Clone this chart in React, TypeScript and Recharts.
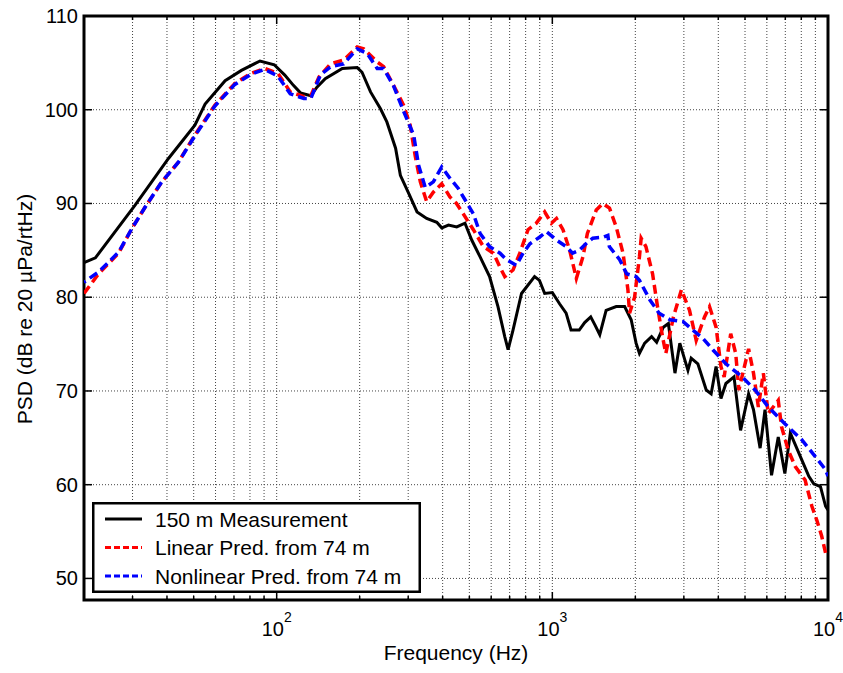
import { LineChart, Line, XAxis, YAxis, CartesianGrid, Legend, ReferenceArea } from 'recharts'

const CHART_W = 843
const CHART_H = 673
const PLOT_TOP = 16
const PLOT_RIGHT = 828
const FONT = '"Liberation Sans", Arial, Helvetica, sans-serif'

// frequency (Hz) ticks on the log axis
const xTicks = [
  20, 30, 40, 50, 60, 70, 80, 90, 100, 200, 300, 400, 500, 600, 700, 800, 900, 1000, 2000, 3000, 4000, 5000,
  6000, 7000, 8000, 9000, 10000,
]
const yTicks = [50, 60, 70, 80, 90, 100, 110]

// 150 m measurement
const measFreq = [
  20, 22, 30.6, 40.5, 50.5, 55, 65, 74.5, 87, 98, 107, 115, 122, 133, 140, 150, 173, 196, 204, 219, 238, 251,
  270, 281, 301, 323, 350, 381, 397, 420, 450, 482, 510, 547, 592, 635, 672, 691, 720, 773, 862, 898, 938, 1000,
  1062, 1122, 1169, 1252, 1310, 1378, 1430, 1486, 1567, 1705, 1829, 1932, 2013, 2070, 2163, 2291, 2390, 2527,
  2636, 2785, 2900, 3104, 3189, 3372, 3617, 3768, 3926, 4090, 4262, 4560, 4818, 5152, 5367, 5672, 5909, 6240,
  6600, 6974, 7300, 7940, 8520, 8878, 9390, 9800, 10000,
]
const measPsd = [
  83.7, 84.2, 89.8, 94.8, 98.35, 100.6, 103.1, 104.2, 105.2, 104.8, 103.7, 102.6, 101.8, 101.5, 102.4, 103.3,
  104.4, 104.5, 104.0, 101.9, 100.1, 98.7, 95.9, 93.0, 91.1, 89.1, 88.4, 88.0, 87.4, 87.7, 87.5, 87.9, 86.1,
  84.3, 82.2, 79.0, 75.8, 74.4, 76.5, 80.4, 82.2, 81.8, 80.4, 80.5, 79.3, 78.3, 76.5, 76.5, 77.3, 77.9, 77.0,
  76.0, 78.6, 79.0, 79.0, 77.6, 75.1, 74.0, 75.1, 75.8, 75.2, 76.8, 77.2, 71.9, 75.1, 72.2, 73.5, 72.9, 70.1,
  69.7, 72.6, 69.2, 70.8, 71.5, 65.8, 69.7, 68.0, 63.9, 68.0, 61.0, 65.1, 61.2, 65.5, 63.0, 60.9, 60.1, 59.8,
  57.7, 57.3,
]

// linear prediction from 74 m
const linFreq = [
  20, 22.6, 26.7, 29.8, 33.3, 38.3, 44, 50.5, 59.7, 70.5, 81, 90.5, 101, 112, 125.5, 133, 142.4, 156.8, 175,
  195.8, 206.8, 231.5, 244.4, 265.4, 288.6, 305, 318, 332, 350, 370, 397, 425, 449, 475, 517, 562, 611, 646,
  672, 720, 762, 816, 875, 938, 992, 1035, 1093, 1156, 1222, 1291, 1340, 1443, 1524, 1612, 1705, 1805, 1880,
  1906, 1988, 2070, 2100, 2185, 2310, 2407, 2510, 2580, 2750, 2940, 3145, 3326, 3565, 3717, 3926, 4090, 4200,
  4437, 4626, 4750, 5152, 5367, 5590, 5827, 6070, 6600, 6780, 7170, 7620, 8260, 8740, 9110, 9490, 9800, 10000,
]
const linPsd = [
  80.4, 82.5, 84.7, 87.3, 89.6, 92.3, 94.4, 97.3, 100.5, 102.8, 103.9, 104.4, 103.9, 101.9, 101.4, 101.5,
  103.5, 104.9, 105.3, 106.7, 106.5, 105.1, 104.6, 102.6, 100.5, 98.35, 95.1, 92.3, 90.2, 91.2, 92.1, 90.7,
  90.0, 88.9, 87.2, 85.4, 84.7, 83.2, 82.2, 82.9, 84.7, 87.2, 87.9, 89.1, 87.9, 88.4, 87.2, 85.0, 82.0, 84.3,
  86.8, 89.3, 90.0, 89.5, 87.5, 84.7, 80.8, 78.3, 80.0, 84.3, 86.3, 85.4, 82.5, 79.0, 75.8, 74.0, 77.9, 80.8,
  78.6, 75.4, 77.9, 79.0, 76.8, 72.6, 71.5, 76.1, 74.0, 70.1, 74.5, 71.9, 68.3, 71.9, 67.6, 69.0, 66.2, 63.7,
  61.9, 60.5, 57.7, 56.2, 54.5, 52.7, 52.5,
]

// nonlinear prediction from 74 m
const nlFreq = [
  20, 22.6, 26.7, 29.8, 33.3, 38.3, 44, 50.5, 59.7, 70.5, 81, 90.5, 101, 112, 125.5, 133, 144, 157, 175, 196,
  213, 231.5, 244, 265, 289, 314, 327, 346, 370, 397, 425, 456, 517, 547, 592, 646, 682, 740, 783, 829, 898,
  952, 1035, 1122, 1185, 1252, 1323, 1402, 1524, 1590, 1610, 1755, 1860, 1906, 2013, 2070, 2260, 2440, 2672,
  2982, 3233, 3518, 3820, 4262, 4885, 5440, 6070, 6974, 8030, 8990, 9800, 10000,
]
const nlPsd = [
  81.6, 82.7, 84.8, 87.3, 89.6, 92.3, 94.4, 97.2, 100.4, 102.7, 103.8, 104.3, 103.6, 101.7, 101.2, 101.2,
  103.7, 104.6, 104.9, 106.5, 106.0, 104.4, 104.4, 102.6, 99.8, 97.3, 94.1, 91.7, 92.3, 93.9, 92.7, 91.6,
  88.9, 86.8, 85.4, 84.7, 84.0, 83.4, 84.7, 85.7, 86.4, 87.0, 86.1, 85.4, 84.7, 85.0, 85.7, 86.3, 86.4, 86.6,
  85.4, 84.0, 82.5, 82.4, 82.2, 81.8, 79.7, 78.3, 77.6, 77.4, 76.5, 75.6, 74.4, 72.9, 71.5, 70.1, 68.3, 66.5,
  64.8, 63.0, 61.6, 60.9,
]

const toPoints = (fs: number[], vs: number[]) => fs.map((f, i) => ({ f, v: vs[i] }))

const measData = toPoints(measFreq, measPsd)
const linData = toPoints(linFreq, linPsd)
const nlData = toPoints(nlFreq, nlPsd)

const LEGEND_ITEMS = [
  { label: '150 m Measurement', color: '#000000', dash: undefined },
  { label: 'Linear Pred. from 74 m', color: '#ff0000', dash: '6 3' },
  { label: 'Nonlinear Pred. from 74 m', color: '#0000ff', dash: '6 3' },
]

function XTick(props: any) {
  const { x, y, payload } = props
  const v = payload.value as number
  const exp = Math.round(Math.log10(v))
  const major = Math.abs(Math.pow(10, exp) - v) < 1e-6
  const len = major ? 8 : 4
  return (
    <g>
      <line x1={x} x2={x} y1={y} y2={y - len} stroke="#000" strokeWidth={1.5} />
      <line x1={x} x2={x} y1={PLOT_TOP} y2={PLOT_TOP + len} stroke="#000" strokeWidth={1.5} />
      {major && exp >= 2 && (
        <text x={x} y={y + 36} textAnchor="middle" fontSize={20} fontFamily={FONT} fill="#000">
          10
          <tspan dy={-14} fontSize={14}>
            {exp}
          </tspan>
        </text>
      )}
    </g>
  )
}

function YTick(props: any) {
  const { x, y, payload } = props
  return (
    <g>
      <line x1={x} x2={x + 8} y1={y} y2={y} stroke="#000" strokeWidth={1.5} />
      <line x1={PLOT_RIGHT} x2={PLOT_RIGHT - 8} y1={y} y2={y} stroke="#000" strokeWidth={1.5} />
      <text x={x - 6} y={y} textAnchor="end" dominantBaseline="central" fontSize={20} fontFamily={FONT} fill="#000">
        {payload.value}
      </text>
    </g>
  )
}

function XTitle() {
  return (
    <text x={456} y={660} textAnchor="middle" fontSize={21} fontFamily={FONT} fill="#000">
      Frequency (Hz)
    </text>
  )
}

function YTitle() {
  return (
    <text
      x={32}
      y={309}
      textAnchor="middle"
      fontSize={21}
      fontFamily={FONT}
      fill="#000"
      transform="rotate(-90, 32, 309)"
    >
      PSD (dB re 20 µPa/rtHz)
    </text>
  )
}

function LegendBox() {
  return (
    <svg width={329} height={91} style={{ display: 'block' }}>
      <rect x={1.25} y={1.25} width={326.5} height={88.5} fill="#fff" stroke="#000" strokeWidth={2.5} />
      {LEGEND_ITEMS.map((item, i) => {
        const cy = 17 + i * 28.5
        return (
          <g key={item.label}>
            <line
              x1={13}
              x2={50}
              y1={cy}
              y2={cy}
              stroke={item.color}
              strokeWidth={3}
              strokeDasharray={item.dash}
            />
            <text x={63} y={cy + 7.5} fontSize={21} fontFamily={FONT} fill="#000">
              {item.label}
            </text>
          </g>
        )
      })}
    </svg>
  )
}

export default function App() {
  return (
    <div style={{ position: 'absolute', left: 0, top: 0, background: '#fff' }}>
      <LineChart width={CHART_W} height={CHART_H} margin={{ top: PLOT_TOP, right: CHART_W - PLOT_RIGHT, bottom: 0, left: 0 }}>
        <CartesianGrid stroke="#444" strokeWidth={1} strokeDasharray="1 2" />
        <XAxis
          dataKey="f"
          type="number"
          scale="log"
          domain={[20, 10000]}
          allowDataOverflow
          ticks={xTicks}
          interval={0}
          height={73}
          tickSize={0}
          tickMargin={0}
          axisLine={false}
          tickLine={false}
          tick={<XTick />}
          label={<XTitle />}
        />
        <YAxis
          type="number"
          domain={[47.7, 110]}
          allowDataOverflow
          ticks={yTicks}
          interval={0}
          width={84}
          tickSize={0}
          tickMargin={0}
          axisLine={false}
          tickLine={false}
          tick={<YTick />}
          label={<YTitle />}
        />
        <Line
          data={measData}
          dataKey="v"
          type="linear"
          stroke="#000000"
          strokeWidth={3}
          dot={false}
          isAnimationActive={false}
        />
        <Line
          data={linData}
          dataKey="v"
          type="linear"
          stroke="#ff0000"
          strokeWidth={3.5}
          strokeDasharray="9 5"
          dot={false}
          isAnimationActive={false}
        />
        <Line
          data={nlData}
          dataKey="v"
          type="linear"
          stroke="#0000ff"
          strokeWidth={3.5}
          strokeDasharray="9 5"
          strokeDashoffset={7}
          dot={false}
          isAnimationActive={false}
        />
        <ReferenceArea
          x1={20}
          x2={10000}
          y1={47.7}
          y2={110}
          fill="none"
          fillOpacity={0}
          stroke="#000"
          strokeWidth={3}
          ifOverflow="visible"
        />
        <Legend
          layout="vertical"
          align="center"
          verticalAlign="middle"
          wrapperStyle={{ left: 92, top: 502, width: 329, height: 91 }}
          content={() => <LegendBox />}
        />
      </LineChart>
    </div>
  )
}
